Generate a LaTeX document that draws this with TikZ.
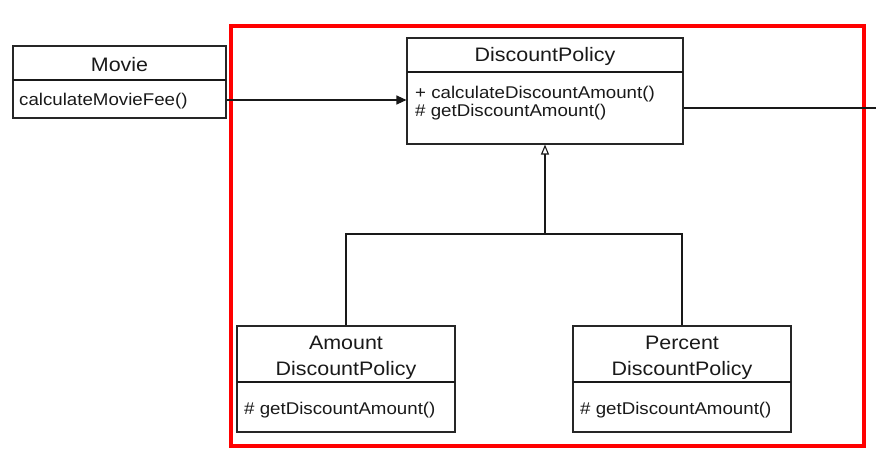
\documentclass[tikz,border=0pt]{standalone}
\usepackage{fontspec}
\setmainfont{Liberation Sans}[FakeStretch=1.1]
\usetikzlibrary{arrows.meta}
\begin{document}
\begin{tikzpicture}[x=1pt,y=-1pt,
  box/.style={draw=black!85,line width=1.1pt,rectangle,inner sep=0pt},
  title/.style={font=\fontsize{19.5}{23}\selectfont,anchor=base,inner sep=0pt,text=black!90},
  member/.style={font=\fontsize{17}{20}\selectfont,anchor=base west,inner sep=0pt,text=black!90},
  conn/.style={draw=black!90,line width=1.1pt}]
\useasboundingbox (0,0) rectangle (876,462);
% red frame
\draw[red,line width=3.5pt] (231,26) rectangle (864,446);
% Movie
\node[box,minimum width=213pt,minimum height=72pt] (movie) at (119.5,82) {};
\draw[conn] (13,80) -- (226,80);
\node[title] (movieT) at (119.5,72) {Movie};
\node[member] (movieM) at (19,106) {calculateMovieFee()};
% DiscountPolicy
\node[box,minimum width=276pt,minimum height=106pt] (dp) at (545,91) {};
\draw[conn] (407,72) -- (683,72);
\node[title] (dpT) at (545,62) {DiscountPolicy};
\node[member] (dpM1) at (415,99) {+ calculateDiscountAmount()};
\node[member] (dpM2) at (415,117) {\# getDiscountAmount()};
% Amount
\node[box,minimum width=218pt,minimum height=106pt] (amt) at (346,379) {};
\draw[conn] (237,382) -- (455,382);
\node[title] (amtT1) at (346,350) {Amount};
\node[title] (amtT2) at (346,376) {DiscountPolicy};
\node[member] (amtM) at (244,414) {\# getDiscountAmount()};
% Percent
\node[box,minimum width=218pt,minimum height=106pt] (pct) at (682,379) {};
\draw[conn] (573,382) -- (791,382);
\node[title] (pctT1) at (682,350) {Percent};
\node[title] (pctT2) at (682,376) {DiscountPolicy};
\node[member] (pctM) at (580,414) {\# getDiscountAmount()};
% connectors
\coordinate (mv) at (movie.east |- 0,100);
\coordinate (dpin) at (dp.west |- 0,100);
\draw[conn,-{Triangle[length=10pt,width=9pt]}] (mv) -- (dpin);
\coordinate (dpout) at (dp.east |- 0,108);
\coordinate (offr) at (876,108);
\draw[conn] (dpout) -- (offr);
\coordinate (j) at (545,234);
\draw[conn] (amt.north) |- (j) -| (pct.north);
\draw[conn,-{Triangle[open,length=10pt,width=8pt,fill=white]}] (j) -- (dp.south);
\end{tikzpicture}
\end{document}
